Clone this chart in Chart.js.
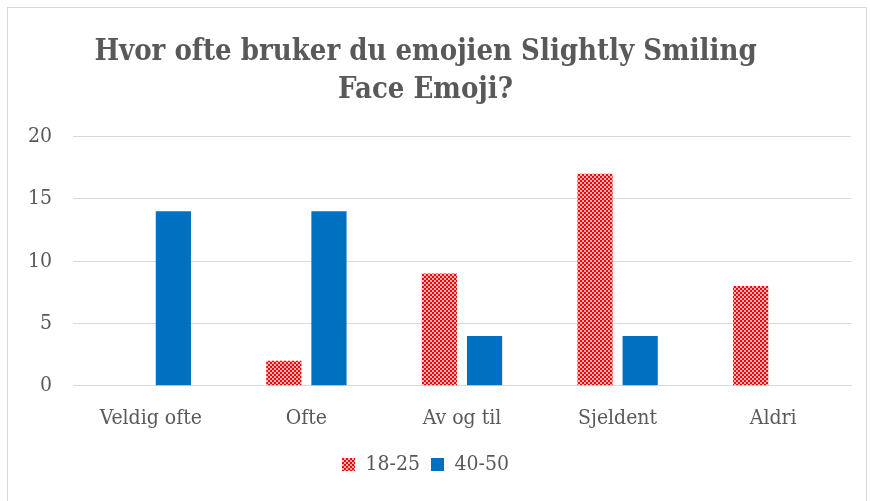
<!DOCTYPE html>
<html>
<head>
<meta charset="utf-8">
<script src="https://cdn.jsdelivr.net/npm/chart.js@4"></script>
<style>
  html, body { margin: 0; padding: 0; background: #fff; }
  #wrap { position: relative; width: 870px; height: 501px; }
  #frame { position: absolute; left: 7px; top: 7px; width: 860px; height: 500px;
           border: 1px solid #d9d9d9; border-bottom: none; box-sizing: border-box; }
  canvas { position: absolute; left: 0; top: 0; }
</style>
</head>
<body>
<div id="wrap">
  <div id="frame"></div>
  <canvas id="chart" width="870" height="501"></canvas>
</div>
<script>
'use strict';

// Data
const categories = ['Veldig ofte', 'Ofte', 'Av og til', 'Sjeldent', 'Aldri'];
const young = [0, 2, 9, 17, 8];    // 18-25
const older = [14, 14, 4, 4, 0];   // 40-50
const yTicks = [0, 5, 10, 15, 20];

const FONT = '"DejaVu Serif Condensed", "DejaVu Serif", serif';
const TEXT = '#595959';

// red checkerboard fill like the Excel pattern
function makeChecker() {
    const c = document.createElement('canvas');
    c.width = 4; c.height = 4;
    const g = c.getContext('2d');
    g.fillStyle = '#ffb3b3';
    g.fillRect(0, 0, 4, 4);
    g.fillStyle = '#ff0000';
    g.fillRect(0, 0, 2, 2);
    g.fillRect(2, 2, 2, 2);
    return g.createPattern(c, 'repeat');
}

const ctx = document.getElementById('chart').getContext('2d');
const checker = makeChecker();

new Chart(ctx, {
    type: 'bar',
    data: {
        labels: categories,
        datasets: [
            {
                label: '18-25',
                data: young,
                backgroundColor: checker,
                borderWidth: 0,
                categoryPercentage: 0.58,
                barPercentage: 0.78
            },
            {
                label: '40-50',
                data: older,
                backgroundColor: '#0070c0',
                borderWidth: 0,
                categoryPercentage: 0.58,
                barPercentage: 0.78
            }
        ]
    },
    options: {
        responsive: false,
        animation: false,
        layout: { padding: { left: 0, right: 19, top: 34, bottom: 16 } },
        scales: {
            x: {
                grid: { display: false },
                border: { display: true, color: '#d9d9d9' },
                ticks: { color: TEXT, font: { family: FONT, size: 21 }, padding: 12 }
            },
            y: {
                min: 0,
                max: 20,
                afterBuildTicks: (s) => { s.ticks = yTicks.map(v => ({ value: v })); },
                afterFit: (s) => { s.width = 73; },
                grid: { color: '#d9d9d9', drawTicks: false },
                border: { display: false },
                ticks: { color: TEXT, font: { family: FONT, size: 21 }, padding: 21 }
            }
        },
        plugins: {
            title: {
                display: true,
                text: ['Hvor ofte bruker du emojien Slightly Smiling', 'Face Emoji?'],
                color: TEXT,
                font: { family: FONT, size: 29, weight: 'bold', lineHeight: 1.3 },
                padding: { top: 0, bottom: 27 }
            },
            legend: {
                position: 'bottom',
                labels: {
                    color: TEXT,
                    font: { family: FONT, size: 21 },
                    boxWidth: 13,
                    boxHeight: 13,
                    padding: 11
                }
            },
            tooltip: { enabled: false }
        }
    }
});
</script>
</body>
</html>
